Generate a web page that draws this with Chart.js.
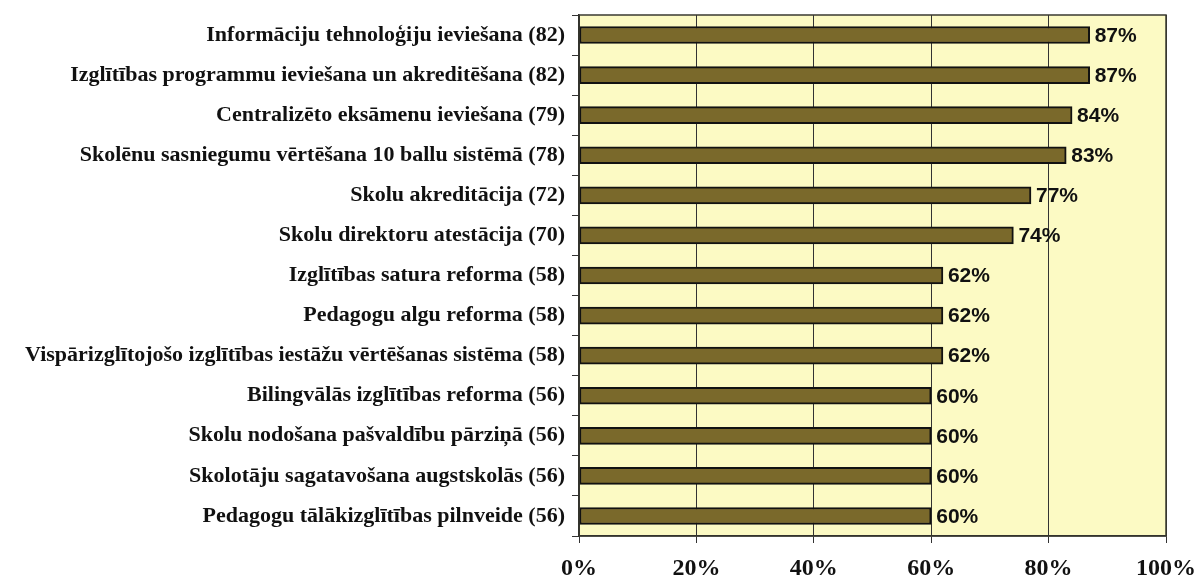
<!DOCTYPE html>
<html>
<head>
<meta charset="utf-8">
<script src="https://cdn.jsdelivr.net/npm/chart.js@4/dist/chart.umd.min.js"></script>
<style>
    html, body { margin: 0; padding: 0; background: #fff; }
    #wrap { width: 1197px; height: 581px; position: relative; }
</style>
</head>
<body>
<div id="wrap"><canvas id="reformChart"></canvas></div>
<script>
const categories = [
    'Informāciju tehnoloģiju ieviešana (82)',
    'Izglītības programmu ieviešana un akreditēšana (82)',
    'Centralizēto eksāmenu ieviešana (79)',
    'Skolēnu sasniegumu vērtēšana 10 ballu sistēmā (78)',
    'Skolu akreditācija (72)',
    'Skolu direktoru atestācija (70)',
    'Izglītības satura reforma (58)',
    'Pedagogu algu reforma (58)',
    'Vispārizglītojošo izglītības iestāžu vērtēšanas sistēma (58)',
    'Bilingvālās izglītības reforma (56)',
    'Skolu nodošana pašvaldību pārziņā (56)',
    'Skolotāju sagatavošana augstskolās (56)',
    'Pedagogu tālākizglītības pilnveide (56)'
];
const shares = [87, 87, 84, 83, 77, 74, 62, 62, 62, 60, 60, 60, 60];
const xTicks = [0, 20, 40, 60, 80, 100];

// yellow plot background + frame
const plotFrame = {
    id: 'plotFrame',
    beforeDraw(chart) {
        const { ctx, chartArea: a } = chart;
        ctx.save();
        ctx.fillStyle = '#fcfac4';
        ctx.fillRect(a.left, a.top, a.right - a.left, a.bottom - a.top);
        ctx.restore();
    },
    afterDraw(chart) {
        const { ctx, chartArea: a } = chart;
        ctx.save();
        ctx.strokeStyle = '#3a3a30';
        ctx.lineWidth = 1.5;
        ctx.strokeRect(a.left, a.top, a.right - a.left, a.bottom - a.top);
        ctx.restore();
    }
};

// percentage labels at bar ends
const valueLabels = {
    id: 'valueLabels',
    afterDatasetsDraw(chart) {
        const { ctx } = chart;
        const meta = chart.getDatasetMeta(0);
        ctx.save();
        ctx.font = 'bold 21px "Liberation Sans", Arial, sans-serif';
        ctx.fillStyle = '#111';
        ctx.textBaseline = 'middle';
        meta.data.forEach((bar, i) => {
            ctx.fillText(shares[i] + '%', bar.x + 5, bar.y + 1);
        });
        ctx.restore();
    }
};

const chartCtx = document.getElementById('reformChart').getContext('2d');
new Chart(chartCtx, {
    type: 'bar',
    data: {
        labels: categories,
        datasets: [{
            data: shares,
            backgroundColor: '#7a692b',
            borderColor: '#111',
            borderWidth: 2,
            borderSkipped: false,
            barThickness: 17
        }]
    },
    options: {
        indexAxis: 'y',
        responsive: true,
        maintainAspectRatio: false,
        animation: false,
        layout: {
            padding: { top: 15, right: 31, left: 0, bottom: 0 }
        },
        plugins: {
            legend: { display: false },
            tooltip: { enabled: false }
        },
        scales: {
            x: {
                min: 0,
                max: 100,
                afterBuildTicks: s => { s.ticks = xTicks.map(v => ({ value: v })); },
                afterFit: s => { s.height = 45; s.paddingLeft = 0; s.paddingRight = 0; },
                border: { color: '#222', width: 1.5 },
                grid: {
                    color: '#333',
                    lineWidth: 1,
                    tickLength: 7,
                    tickColor: '#333'
                },
                ticks: {
                    padding: 11,
                    color: '#111',
                    maxRotation: 0,
                    font: { family: '"Liberation Serif", "Times New Roman", serif', size: 24, weight: 'bold' },
                    callback: v => v + '%'
                }
            },
            y: {
                afterFit: s => { s.width = 579; s.paddingTop = 0; s.paddingBottom = 0; },
                border: { color: '#222', width: 1.5 },
                grid: {
                    offset: true,
                    drawOnChartArea: false,
                    tickLength: 7,
                    tickColor: '#333'
                },
                ticks: {
                    padding: 7,
                    color: '#111',
                    font: { family: '"Liberation Serif", "Times New Roman", serif', size: 22, weight: 'bold' }
                }
            }
        }
    },
    plugins: [plotFrame, valueLabels]
});
</script>
</body>
</html>
